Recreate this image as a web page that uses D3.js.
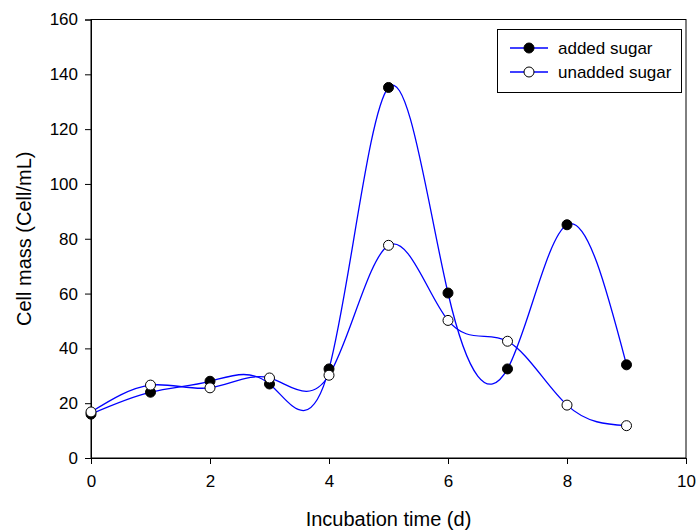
<!DOCTYPE html>
<html>
<head>
<meta charset="utf-8">
<script src="https://cdn.jsdelivr.net/npm/d3@7"></script>
<style>
  body { margin: 0; background: #fff; }
  svg { font-family: "Liberation Sans", Arial, sans-serif; }
</style>
</head>
<body>
<div class="chart"></div>
<script>
// Data
var days = [0, 1, 2, 3, 4, 5, 6, 7, 8, 9];
var addedSugar = [16, 24, 28, 27, 32.5, 135.2, 60.2, 32.5, 85.1, 34];
var unaddedSugar = [16.8, 26.6, 25.6, 29.2, 30.2, 77.6, 50.2, 42.6, 19.3, 11.8];
var xTicks = [0, 2, 4, 6, 8, 10];
var yTicks = [0, 20, 40, 60, 80, 100, 120, 140, 160];

var width = 697, height = 532;
var plotLeft = 91, plotRight = 686, plotTop = 19.5, plotBottom = 458;

var svg = d3.select(".chart").append("svg")
            .attr("width", width)
            .attr("height", height);

var x = d3.scaleLinear().domain([0, 10]).range([plotLeft, plotRight]);
var y = d3.scaleLinear().domain([0, 160]).range([plotBottom, plotTop]);

// Frame
svg.append("rect")
   .attr("x", plotLeft).attr("y", plotTop)
   .attr("width", plotRight - plotLeft).attr("height", plotBottom - plotTop)
   .attr("fill", "none").attr("stroke", "#000").attr("stroke-width", 1);

// Axes
var xAxis = svg.append("g")
               .attr("transform", "translate(0," + plotBottom + ")")
               .call(d3.axisBottom(x).tickValues(xTicks).tickSize(6).tickPadding(11));
var yAxis = svg.append("g")
               .attr("transform", "translate(" + plotLeft + ",0)")
               .call(d3.axisLeft(y).tickValues(yTicks).tickSize(6).tickPadding(7));

[xAxis, yAxis].forEach(function(g) {
  g.select(".domain").attr("stroke", "#000");
  g.selectAll("line").attr("stroke", "#000");
  g.selectAll("text").attr("font-size", 17).attr("fill", "#000")
   .style("font-family", "'Liberation Sans', Arial, sans-serif");
});

// Axis titles
svg.append("text")
   .attr("x", (plotLeft + plotRight) / 2).attr("y", 526)
   .attr("text-anchor", "middle").attr("font-size", 20)
   .text("Incubation time (d)");
svg.append("text")
   .attr("transform", "translate(31," + ((plotTop + plotBottom) / 2) + ") rotate(-90)")
   .attr("text-anchor", "middle").attr("font-size", 20)
   .text("Cell mass (Cell/mL)");

// Curves
var line = d3.line()
             .x(function(d) { return x(d[0]); })
             .y(function(d) { return y(d[1]); })
             .curve(d3.curveNatural);

var series = [
  { name: "added sugar", values: addedSugar, fill: "#000" },
  { name: "unadded sugar", values: unaddedSugar, fill: "#fff" }
];

series.forEach(function(s) {
  var pts = days.map(function(d, i) { return [d, s.values[i]]; });
  svg.append("path")
     .datum(pts)
     .attr("d", line)
     .attr("fill", "none")
     .attr("stroke", "#0000ff")
     .attr("stroke-width", 1.3);
});

series.forEach(function(s) {
  svg.append("g").selectAll("circle")
     .data(days)
     .enter().append("circle")
     .attr("cx", function(d) { return x(d); })
     .attr("cy", function(d, i) { return y(s.values[i]); })
     .attr("r", 5)
     .attr("fill", s.fill)
     .attr("stroke", "#000")
     .attr("stroke-width", 1);
});

// Legend
var legend = svg.append("g");
legend.append("rect")
      .attr("x", 497.5).attr("y", 29.5)
      .attr("width", 184).attr("height", 63)
      .attr("fill", "#fff").attr("stroke", "#000");
series.forEach(function(s, i) {
  var ly = 48 + i * 24;
  legend.append("line")
        .attr("x1", 510).attr("x2", 548).attr("y1", ly).attr("y2", ly)
        .attr("stroke", "#0000ff").attr("stroke-width", 1.3);
  legend.append("circle")
        .attr("cx", 529).attr("cy", ly).attr("r", 5)
        .attr("fill", s.fill).attr("stroke", "#000");
  legend.append("text")
        .attr("x", 558).attr("y", ly + 6)
        .attr("font-size", 17)
        .text(s.name);
});
</script>
</body>
</html>
